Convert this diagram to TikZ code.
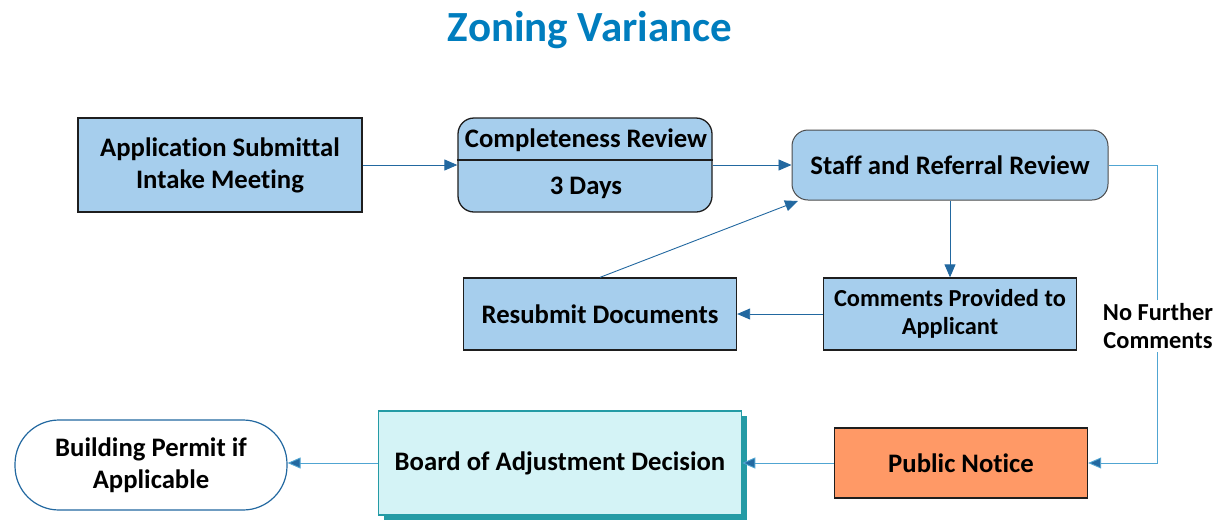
\documentclass[tikz,border=0pt]{standalone}
\usepackage{fontspec}
\setmainfont{Carlito}[Ligatures=NoCommon]
\usetikzlibrary{arrows.meta,shadows}
\definecolor{boxblue}{RGB}{166,206,237}
\definecolor{linkblue}{RGB}{34,104,160}
\definecolor{lightlink}{RGB}{80,165,210}
\definecolor{titleblue}{RGB}{0,125,190}
\definecolor{orangebox}{RGB}{255,153,102}
\definecolor{tealfill}{RGB}{212,243,246}
\definecolor{tealedge}{RGB}{36,155,165}
\definecolor{edgegray}{RGB}{30,30,30}
\tikzset{
  boxstyle/.style={draw=edgegray, line width=1.3pt, fill=boxblue, align=center, inner sep=0pt,
    font=\fontsize{26.7}{32}\selectfont\bfseries},
  txt/.style={align=center, inner sep=0pt, font=\fontsize{26.7}{32}\selectfont\bfseries},
  smalltxt/.style={font=\fontsize{24.4}{28}\selectfont\bfseries},
  link/.style={draw=linkblue, line width=0.9pt, -{Triangle[length=13pt,width=11pt]}},
  linklight/.style={draw=lightlink, line width=0.9pt, -{Triangle[length=13pt,width=11pt,fill=linkblue]}}
}
\begin{document}
\begin{tikzpicture}[x=1pt,y=-1pt]
\useasboundingbox (0,0) rectangle (1217,520);
\node[font=\fontsize{43}{48}\selectfont\bfseries, text=titleblue] (title) at (590,30) {Zoning Variance};

\node[boxstyle, minimum width=284pt, minimum height=94pt] (app) at (220,165) {Application Submittal\\Intake Meeting};

\node[boxstyle, rounded corners=16pt, minimum width=254pt, minimum height=94pt] (comp) at (585,165) {};
\node[txt] (comp1) at (586,140) {Completeness Review};
\node[txt] (comp2) at (586,188) {3 Days};
\draw[edgegray, line width=1.3pt] (comp.west |- 0,160) -- (comp.east |- 0,160);

\node[boxstyle, draw=edgegray!80, line width=1pt, rounded corners=16pt, minimum width=316pt, minimum height=70pt] (staff) at (950,165) {Staff and Referral Review};

\node[boxstyle, smalltxt, minimum width=253pt, minimum height=72pt] (comm) at (950,314) {Comments Provided to\\Applicant};
\node[boxstyle, minimum width=273pt, minimum height=72pt] (resub) at (600,314) {Resubmit Documents};

\node[boxstyle, fill=orangebox, minimum width=253pt, minimum height=70pt] (pub) at (961,463) {Public Notice};

\node[boxstyle, draw=tealedge, line width=1.5pt, fill=tealfill, minimum width=363pt, minimum height=104pt,
  drop shadow={shadow xshift=5pt, shadow yshift=-5pt, fill=tealedge, opacity=1}] (board) at (560,463) {Board of Adjustment Decision};

\node[boxstyle, draw=linkblue, line width=1.2pt, fill=white, rounded corners=44pt, minimum width=272pt, minimum height=90pt] (bldg) at (151,465) {Building Permit if\\Applicable};

\draw[link] (app.east) -- (comp.west);
\draw[link] (comp.east) -- (staff.west);
\draw[link] (staff.south) -- (comm.north);
\draw[link] (comm.west) -- (resub.east);
\coordinate (rsend) at (798,201);
\draw[link] (resub.north) -- (rsend);
\coordinate (c1) at (1157,165);
\coordinate (c2) at (1157,463);
\draw[linklight] (staff.east) -- (c1) -- (c2) -- (pub.east);
\node[txt, smalltxt, fill=white, inner sep=3pt] (nfc) at (1158,326) {No Further\\Comments};
\draw[linklight] (pub.west) -- (board.east);
\draw[linklight] (board.west) -- (board.west -| bldg.east);
\end{tikzpicture}
\end{document}
